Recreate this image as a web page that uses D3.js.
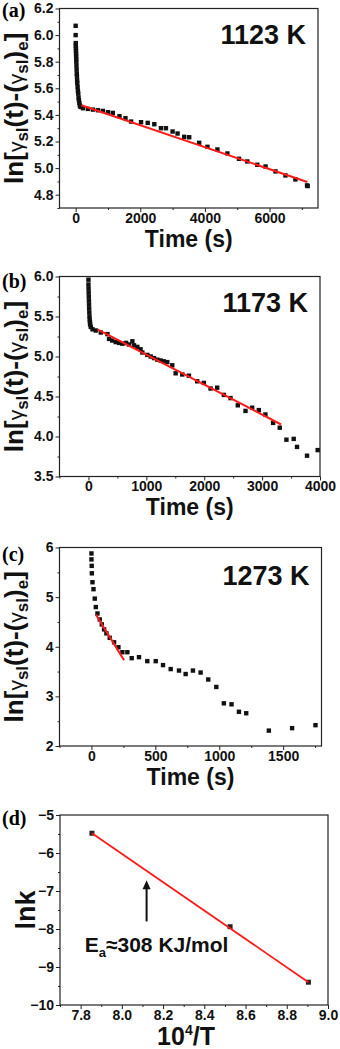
<!DOCTYPE html>
<html>
<head>
<meta charset="utf-8">
<script src="https://cdn.jsdelivr.net/npm/d3@7"></script>
<style>
  body { margin: 0; background: #fff; }
  svg { display: block; }
</style>
</head>
<body>
<svg id="fig" width="340" height="1049"></svg>
<script>
// ---- panel (a) 1123 K ----
var timeA = [0, 0, 3, 5, 8, 10, 13, 15, 18, 20, 25, 30, 35, 40, 45, 50, 60, 70, 80, 90, 100, 115, 130, 150, 226, 380, 534, 690, 842, 1000, 1150, 1356, 1541, 1715, 2024, 2230, 2434, 2640, 2794, 3000, 3154, 3360, 3514, 3822, 4079, 4387, 4696, 5055, 5312, 5620, 5877, 6185, 6493, 6801, 7161, 7180];
var valA = [6.07, 6.0, 5.94, 5.92, 5.90, 5.88, 5.86, 5.84, 5.82, 5.80, 5.77, 5.74, 5.71, 5.69, 5.66, 5.64, 5.61, 5.58, 5.56, 5.53, 5.51, 5.49, 5.47, 5.46, 5.45, 5.445, 5.44, 5.435, 5.43, 5.42, 5.415, 5.39, 5.375, 5.35, 5.345, 5.34, 5.33, 5.30, 5.30, 5.275, 5.26, 5.235, 5.232, 5.19, 5.16, 5.14, 5.11, 5.07, 5.05, 5.025, 5.012, 4.975, 4.945, 4.915, 4.87, 4.865];
var fitA = [[176, 5.473], [7170, 4.896]];

// ---- panel (b) 1173 K ----
var timeB = [0, 0, 2, 4, 6, 8, 10, 12, 15, 18, 22, 26, 29, 40, 70, 126, 213, 328, 356, 410, 471, 530, 586, 650, 700, 759, 787, 845, 900, 931, 1017, 1075, 1132, 1190, 1247, 1300, 1362, 1448, 1506, 1621, 1736, 1879, 1994, 2109, 2224, 2339, 2454, 2580, 2713, 2828, 2943, 3057, 3190, 3305, 3420, 3546, 3603, 3776, 3960];
var valB = [5.96, 5.90, 5.85, 5.80, 5.75, 5.70, 5.65, 5.60, 5.55, 5.50, 5.46, 5.43, 5.40, 5.37, 5.34, 5.325, 5.30, 5.28, 5.22, 5.20, 5.18, 5.17, 5.16, 5.17, 5.15, 5.19, 5.14, 5.12, 5.09, 5.05, 5.02, 5.0, 4.98, 4.96, 4.95, 4.94, 4.93, 4.89, 4.79, 4.775, 4.76, 4.69, 4.67, 4.60, 4.61, 4.52, 4.48, 4.39, 4.32, 4.36, 4.33, 4.275, 4.17, 4.11, 3.96, 3.97, 3.87, 3.76, 3.83];
var fitB = [[155, 5.34], [3328, 4.15]];

// ---- panel (c) 1273 K ----
var timeC = [0, 0, 2, 3, 8, 16, 26, 34, 47, 65, 81, 99, 117, 143, 177, 211, 242, 281, 315, 372, 437, 503, 560, 620, 685, 737, 794, 854, 914, 977, 1036, 1096, 1154, 1211, 1388, 1570, 1753];
var valC = [5.88, 5.76, 5.63, 5.48, 5.30, 5.16, 4.97, 4.80, 4.67, 4.55, 4.45, 4.35, 4.27, 4.18, 4.09, 3.99, 3.89, 3.89, 3.77, 3.79, 3.71, 3.71, 3.63, 3.55, 3.52, 3.45, 3.52, 3.48, 3.34, 3.19, 2.86, 2.84, 2.69, 2.66, 2.31, 2.36, 2.42];
var fitC = [[34, 4.65], [255, 3.73]];

// ---- panel (d) Arrhenius ----
var invT = [7.855, 8.525, 8.905];
var lnk = [-5.48, -7.94, -9.40];
var fitD = [[7.855, -5.48], [8.905, -9.40]];
var arrowD = [[8.12, -7.8], [8.12, -6.72]];
var noteD = [7.82, -8.6];

var panels = [
  { tag: "(a)", temp: "1123 K", x: timeA, y: valA, fit: fitA,
    box: [59.5, 8.5, 318, 208], xd: [-500, 7500], yd: [4.7, 6.2],
    xt: [0, 2000, 4000, 6000], xm: [1000, 3000, 5000, 7000],
    yt: [4.8, 5.0, 5.2, 5.4, 5.6, 5.8, 6.0, 6.2], ym: [4.7, 4.9, 5.1, 5.3, 5.5, 5.7, 5.9, 6.1], yf: ".1f",
    tagY: 17, tempY: 44, xlabY: 247 },
  { tag: "(b)", temp: "1173 K", x: timeB, y: valB, fit: fitB,
    box: [59.5, 276.5, 320, 476.5], xd: [-500, 4000], yd: [3.5, 6.0],
    xt: [0, 1000, 2000, 3000, 4000], xm: [-500, 500, 1500, 2500, 3500],
    yt: [3.5, 4.0, 4.5, 5.0, 5.5, 6.0], ym: [3.75, 4.25, 4.75, 5.25, 5.75], yf: ".1f",
    tagY: 288, tempY: 312, xlabY: 515 },
  { tag: "(c)", temp: "1273 K", x: timeC, y: valC, fit: fitC,
    box: [59.5, 547.5, 321.5, 746], xd: [-250, 1800], yd: [2, 6],
    xt: [0, 500, 1000, 1500], xm: [-250, 250, 750, 1250, 1750],
    yt: [2, 3, 4, 5, 6], ym: [2.5, 3.5, 4.5, 5.5], yf: "d",
    tagY: 561, tempY: 585, xlabY: 785 }
];

var svg = d3.select("#fig");
var sans = "'Liberation Sans', Arial, sans-serif";
var serif = "'Liberation Serif', 'Times New Roman', serif";

function frame(p, xs, ys) {
  var b = p.box;
  var g = svg.append("g");
  g.append("g").attr("transform", "translate(0," + b[3] + ")")
    .call(d3.axisBottom(xs).tickValues(p.xt).tickSizeInner(4).tickSizeOuter(0).tickPadding(1).tickFormat(p.xfmt || d3.format("d")));
  g.append("g").attr("transform", "translate(0," + b[3] + ")")
    .call(d3.axisBottom(xs).tickValues(p.xm).tickSize(2).tickSizeOuter(0).tickFormat(""));
  g.append("g").attr("transform", "translate(" + b[0] + ",0)")
    .call(d3.axisLeft(ys).tickValues(p.yt).tickSizeInner(4).tickSizeOuter(0).tickPadding(2).tickFormat(d3.format(p.yf)));
  g.append("g").attr("transform", "translate(" + b[0] + ",0)")
    .call(d3.axisLeft(ys).tickValues(p.ym).tickSize(2).tickSizeOuter(0).tickFormat(""));
  g.selectAll(".domain").remove();
  g.selectAll(".tick line").attr("stroke", "#222");
  g.selectAll(".tick text")
    .style("font-family", sans).style("font-weight", "bold").style("font-size", "14px")
    .attr("fill", "#111");
  svg.append("rect")
    .attr("x", b[0]).attr("y", b[1])
    .attr("width", b[2] - b[0]).attr("height", b[3] - b[1])
    .attr("fill", "none").attr("stroke", "#222").attr("stroke-width", 1.2);
  svg.append("text")
    .attr("x", 2).attr("y", p.tagY)
    .style("font-family", serif).style("font-weight", "bold").style("font-size", "20px")
    .text(p.tag);
}

function yLabel(cy) {
  var t = svg.append("text")
    .attr("transform", "translate(23," + cy + ")rotate(-90)")
    .attr("text-anchor", "middle")
    .style("font-family", sans).style("font-weight", "bold").style("font-size", "26px")
    .attr("fill", "#111");
  t.append("tspan").text("ln[");
  t.append("tspan").style("font-weight", "normal").style("font-size", "21px").text("\u03b3");
  t.append("tspan").attr("dy", 5).style("font-size", "17px").text("sl");
  t.append("tspan").attr("dy", -5).text("(t)-(");
  t.append("tspan").style("font-weight", "normal").style("font-size", "21px").text("\u03b3");
  t.append("tspan").attr("dy", 5).style("font-size", "17px").text("sl");
  t.append("tspan").attr("dy", -5).text(")");
  t.append("tspan").attr("dy", 5).style("font-size", "17px").text("e");
  t.append("tspan").attr("dy", -5).text("]");
}

panels.forEach(function (p) {
  var b = p.box;
  var xs = d3.scaleLinear().domain(p.xd).range([b[0], b[2]]);
  var ys = d3.scaleLinear().domain(p.yd).range([b[3], b[1]]);
  frame(p, xs, ys);

  svg.append("g").selectAll("rect")
    .data(p.x.map(function (t, i) { return [t, p.y[i]]; }))
    .enter().append("rect")
    .attr("x", function (d) { return xs(d[0]) - 2.2; })
    .attr("y", function (d) { return ys(d[1]) - 2.2; })
    .attr("width", 4.4).attr("height", 4.4)
    .attr("fill", "#111");

  svg.append("path")
    .attr("d", d3.line().x(function (d) { return xs(d[0]); }).y(function (d) { return ys(d[1]); })(p.fit))
    .attr("fill", "none").attr("stroke", "#ff1a1a").attr("stroke-width", 2);

  svg.append("text")
    .attr("x", b[2] - 12).attr("y", p.tempY)
    .attr("text-anchor", "end")
    .style("font-family", sans).style("font-weight", "bold").style("font-size", "27px")
    .attr("fill", "#111")
    .text(p.temp);

  svg.append("text")
    .attr("x", (b[0] + b[2]) / 2).attr("y", p.xlabY)
    .attr("text-anchor", "middle")
    .style("font-family", sans).style("font-weight", "bold").style("font-size", "23px")
    .attr("fill", "#111")
    .text("Time (s)");

  yLabel((b[1] + b[3]) / 2);
});

// ---- panel (d) ----
var pd = { tag: "(d)", box: [60, 815, 328, 1005], xt: [7.8, 8.0, 8.2, 8.4, 8.6, 8.8, 9.0],
  xm: [7.7, 7.9, 8.1, 8.3, 8.5, 8.7, 8.9], yt: [-10, -9, -8, -7, -6, -5],
  ym: [-9.5, -8.5, -7.5, -6.5, -5.5], yf: "d", xfmt: d3.format(".1f"), tagY: 825 };
var xd = d3.scaleLinear().domain([7.7, 9.0]).range([pd.box[0], pd.box[2]]);
var yd = d3.scaleLinear().domain([-10, -5]).range([pd.box[3], pd.box[1]]);
frame(pd, xd, yd);

svg.append("g").selectAll("rect")
  .data(invT.map(function (v, i) { return [v, lnk[i]]; }))
  .enter().append("rect")
  .attr("x", function (d) { return xd(d[0]) - 2.5; })
  .attr("y", function (d) { return yd(d[1]) - 2.5; })
  .attr("width", 5).attr("height", 5)
  .attr("fill", "#222");

svg.append("path")
  .attr("d", d3.line().x(function (d) { return xd(d[0]); }).y(function (d) { return yd(d[1]); })(fitD))
  .attr("fill", "none").attr("stroke", "#ff1a1a").attr("stroke-width", 1.8);

var ax = xd(arrowD[0][0]), ay0 = yd(arrowD[0][1]), ay1 = yd(arrowD[1][1]);
svg.append("line")
  .attr("x1", ax).attr("x2", ax).attr("y1", ay0).attr("y2", ay1 + 6)
  .attr("stroke", "#111").attr("stroke-width", 2);
svg.append("path")
  .attr("d", "M" + ax + "," + ay1 + "L" + (ax - 4) + "," + (ay1 + 9) + "L" + (ax + 4) + "," + (ay1 + 9) + "Z")
  .attr("fill", "#111");

var note = svg.append("text")
  .attr("x", xd(noteD[0])).attr("y", yd(noteD[1]))
  .style("font-family", sans).style("font-weight", "bold").style("font-size", "21px")
  .attr("fill", "#111");
note.append("tspan").text("E");
note.append("tspan").attr("dy", 5).style("font-size", "13px").text("a");
note.append("tspan").attr("dy", -5).text("\u2248308 KJ/mol");

svg.append("text")
  .attr("transform", "translate(35," + ((pd.box[1] + pd.box[3]) / 2) + ")rotate(-90)")
  .attr("text-anchor", "middle")
  .style("font-family", sans).style("font-weight", "bold").style("font-size", "27px")
  .attr("fill", "#111")
  .text("lnk");

var xl = svg.append("text")
  .attr("x", (pd.box[0] + pd.box[2]) / 2 - 8).attr("y", 1045)
  .attr("text-anchor", "middle")
  .style("font-family", sans).style("font-weight", "bold").style("font-size", "25px")
  .attr("fill", "#111");
xl.append("tspan").text("10");
xl.append("tspan").attr("dy", -10).style("font-size", "14px").text("4");
xl.append("tspan").attr("dy", 10).text("/T");
</script>
</body>
</html>
